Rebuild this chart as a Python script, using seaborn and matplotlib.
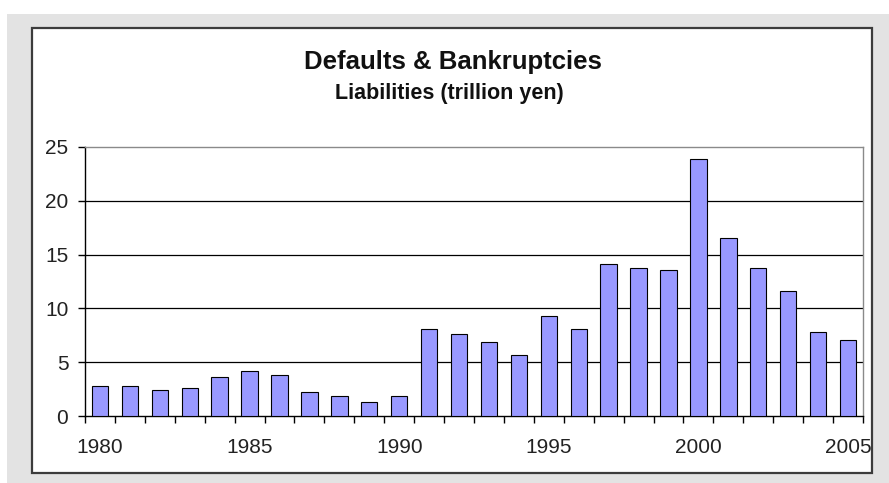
import matplotlib
matplotlib.use("Agg")
import matplotlib.pyplot as plt
from matplotlib.patches import Rectangle
import seaborn as sns
import pandas as pd

# Japanese defaults & bankruptcies: total liabilities per year (trillion yen)
years = list(range(1980, 2006))
liabilities = [2.8, 2.8, 2.4, 2.6, 3.6, 4.2, 3.8, 2.2, 1.9, 1.3,
               1.9, 8.1, 7.6, 6.9, 5.7, 9.3, 8.1, 14.1, 13.8, 13.6,
               23.9, 16.5, 13.8, 11.6, 7.8, 7.1]
y_ticks = [0, 5, 10, 15, 20, 25]
x_tick_years = [1980, 1985, 1990, 1995, 2000, 2005]

title = "Defaults & Bankruptcies"
subtitle = "Liabilities (trillion yen)"

sns.set_theme(style="white")
plt.rcParams["font.family"] = ["Liberation Sans", "DejaVu Sans"]

W, H = 889, 483
fig = plt.figure(figsize=(W / 100, H / 100), dpi=100)
fig.patch.set_facecolor("white")


def fx(px):
    return px / W


def fy(py):
    return 1 - py / H


# grey canvas and the white chart panel with its dark frame
fig.patches.append(Rectangle((fx(7), 0), 1 - fx(7), fy(14), transform=fig.transFigure,
                             facecolor="#e3e3e3", edgecolor="none", zorder=0))
fig.patches.append(Rectangle((fx(32), fy(473)), fx(872) - fx(32), fy(28) - fy(473),
                             transform=fig.transFigure, facecolor="white",
                             edgecolor="#3c3c3c", lw=1.6, zorder=1))

ax = fig.add_axes([fx(85), fy(416), fx(863) - fx(85), fy(147) - fy(416)])
ax.set_zorder(3)
ax.set_facecolor("none")

df = pd.DataFrame({"year": years, "value": liabilities})
sns.barplot(data=df, x="year", y="value", color="#9999ff", saturation=1,
            width=0.55, edgecolor="black", linewidth=0.8, ax=ax, zorder=3)

n = len(years)
ax.set_xlim(-0.5, n - 0.5)
ax.set_ylim(y_ticks[0], y_ticks[-1])

# horizontal gridlines
for v in y_ticks[1:-1]:
    ax.axhline(v, color="black", lw=0.9, zorder=1)

ax.set_yticks(y_ticks)
ax.set_yticklabels([str(v) for v in y_ticks])

# tick marks sit on the category boundaries, labels under the bars
ax.set_xticks([i - 0.5 for i in range(n + 1)])
ax.set_xticklabels([])
ax.set_xticks([years.index(y) for y in x_tick_years], minor=True)
ax.set_xticklabels([str(y) for y in x_tick_years], minor=True)

ax.tick_params(axis="x", which="major", direction="out", length=5, width=1,
               color="black", bottom=True)
ax.tick_params(axis="x", which="minor", length=0, pad=16, labelsize=15,
               labelcolor="#222222")
ax.tick_params(axis="y", direction="out", length=5, width=1, color="black",
               left=True, pad=7, labelsize=15, labelcolor="#222222")

ax.set_xlabel("")
ax.set_ylabel("")

for side in ("left", "bottom"):
    ax.spines[side].set_color("black")
    ax.spines[side].set_linewidth(1.0)
for side in ("top", "right"):
    ax.spines[side].set_color("#8a8a8a")
    ax.spines[side].set_linewidth(1.0)
    ax.spines[side].set_visible(True)

fig.text(fx(453), fy(62), title, ha="center", va="center",
         fontsize=18.5, fontweight="bold", color="#111111")
fig.text(fx(449), fy(93), subtitle, ha="center", va="center",
         fontsize=15.5, fontweight="bold", color="#111111")

fig.savefig("out.png", dpi=100)
